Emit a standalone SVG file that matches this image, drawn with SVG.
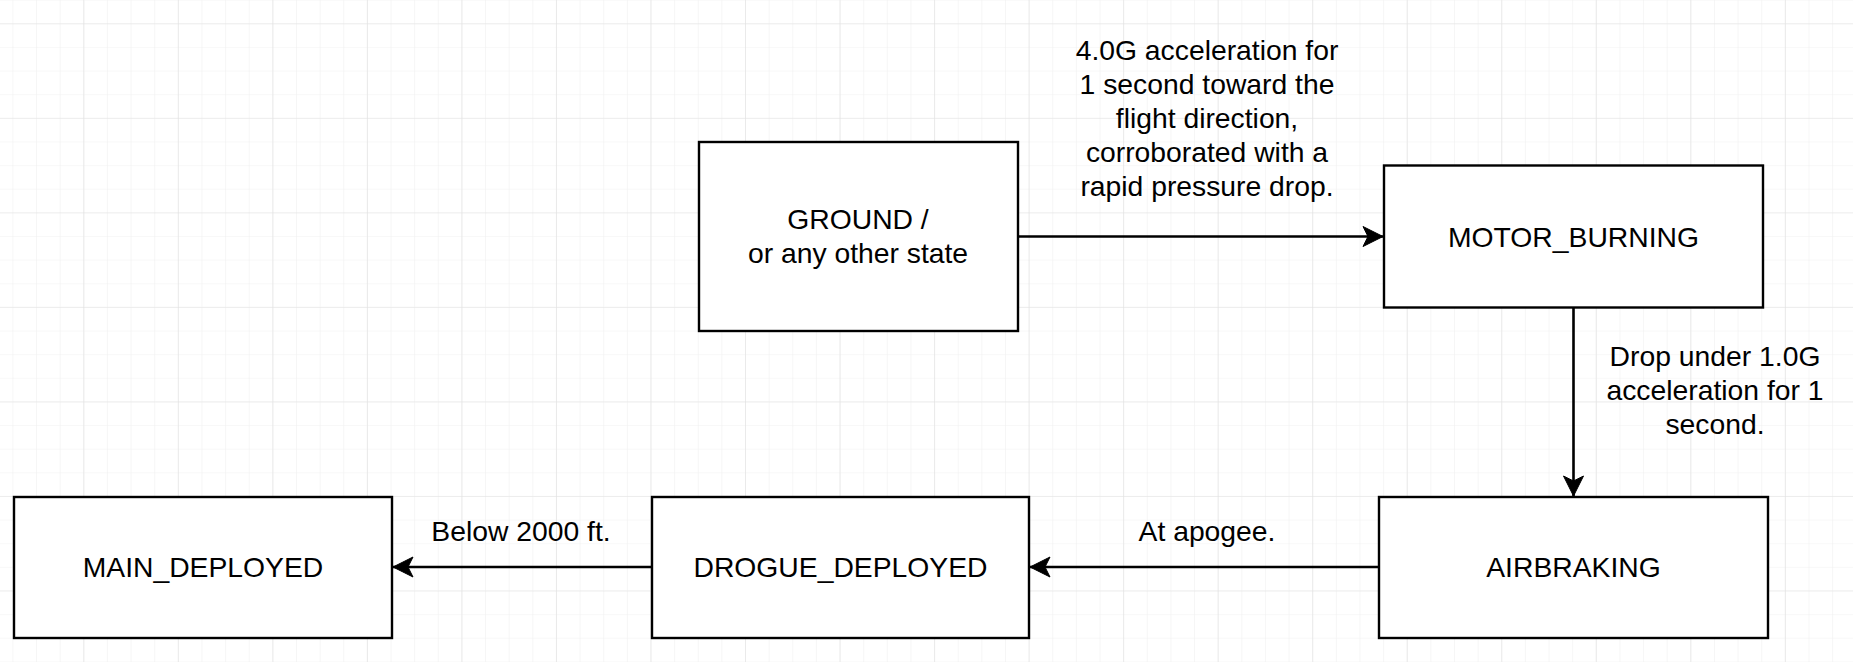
<svg xmlns="http://www.w3.org/2000/svg" width="1853" height="662" viewBox="0 0 1853 662">
  <defs>
    <pattern id="minor" patternUnits="userSpaceOnUse" x="12.4" y="23.3" width="23.633" height="23.633">
      <path d="M0,0 V23.633 M0,0 H23.633" fill="none" stroke="#f1f1f1" stroke-width="1.2"/>
    </pattern>
    <pattern id="major" patternUnits="userSpaceOnUse" x="83.3" y="23.3" width="94.53" height="94.53">
      <path d="M0,0 V94.53 M0,0 H94.53" fill="none" stroke="#e2e2e2" stroke-width="1.2"/>
    </pattern>
    <marker id="arrow" markerUnits="userSpaceOnUse" markerWidth="22" markerHeight="22" viewBox="-21 -11 22 22" refX="0" refY="0" orient="auto">
      <path d="M0,0 L-20,-10 L-15,0 L-20,10 Z" fill="#000" stroke="#000" stroke-width="1"/>
    </marker>
    <style>
      .node rect { fill: #fff; stroke: #000; stroke-width: 2.4; }
      .node text, .label { font-family: "Liberation Sans", Arial, sans-serif; font-size: 28.3px; fill: #000; text-anchor: middle; }
      .edge { fill: none; stroke: #000; stroke-width: 2.6; marker-end: url(#arrow); }
    </style>
  </defs>
  <rect width="1853" height="662" fill="#fff"/>
  <g id="grid">
    <rect width="1853" height="662" fill="url(#minor)"/>
    <rect width="1853" height="662" fill="url(#major)"/>
  </g>

  <g id="connectors">
    <path class="edge" d="M1018,236.5 H1383"/>
    <path class="edge" d="M1573.5,307 V496"/>
    <path class="edge" d="M1379,567 H1030"/>
    <path class="edge" d="M652,567 H393"/>
    <text class="label" x="1207" y="59.5">4.0G acceleration for</text>
    <text class="label" x="1207" y="93.5">1 second toward the</text>
    <text class="label" x="1207" y="127.5">flight direction,</text>
    <text class="label" x="1207" y="161.5">corroborated with a</text>
    <text class="label" x="1207" y="195.5">rapid pressure drop.</text>
    <text class="label" x="1715" y="365.5">Drop under 1.0G</text>
    <text class="label" x="1715" y="399.5">acceleration for 1</text>
    <text class="label" x="1715" y="433.5">second.</text>
    <text class="label" x="1207" y="541">At apogee.</text>
    <text class="label" x="521" y="541">Below 2000 ft.</text>
  </g>

  <g id="ground" class="node">
    <rect x="699" y="142" width="319" height="189"/>
    <text x="858" y="229">GROUND /</text>
    <text x="858" y="263">or any other state</text>
  </g>
  <g id="motor_burning" class="node">
    <rect x="1384" y="165.5" width="379" height="142"/>
    <text x="1573.5" y="246.5">MOTOR_BURNING</text>
  </g>
  <g id="airbraking" class="node">
    <rect x="1379" y="497" width="389" height="141"/>
    <text x="1573.5" y="577">AIRBRAKING</text>
  </g>
  <g id="drogue_deployed" class="node">
    <rect x="652" y="497" width="377" height="141"/>
    <text x="840.5" y="577">DROGUE_DEPLOYED</text>
  </g>
  <g id="main_deployed" class="node">
    <rect x="14" y="497" width="378" height="141"/>
    <text x="203" y="577">MAIN_DEPLOYED</text>
  </g>
</svg>
